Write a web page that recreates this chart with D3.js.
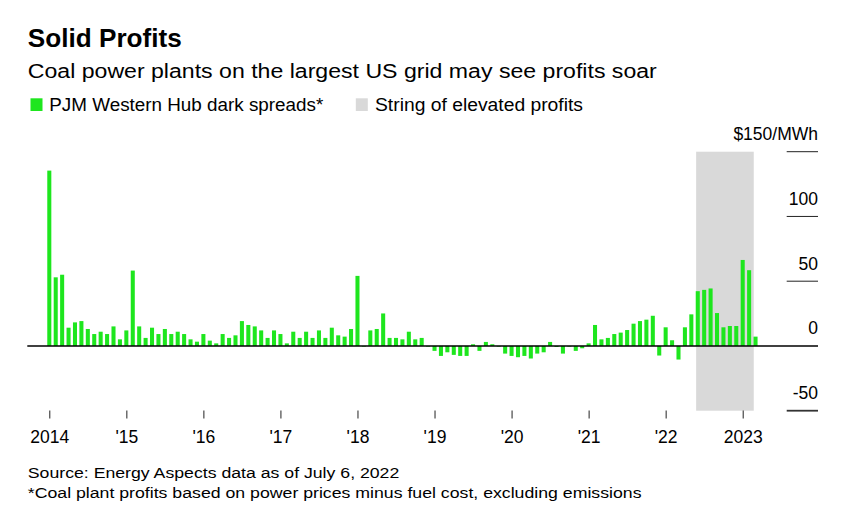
<!DOCTYPE html>
<html><head><meta charset="utf-8">
<script src="https://cdn.jsdelivr.net/npm/d3@7"></script>
<style>
body{margin:0;background:#fff}
svg{display:block}
text{font-family:"Liberation Sans",Arial,Helvetica,sans-serif;fill:#000}
</style>
</head><body>
<svg id="chart" width="851" height="530"></svg>
<script>
// ---------- data ----------
const startYear = 2014;
const spreads2014 = [135.4, 53, 55, 14.1, 18.2, 19.2, 13.1, 9.2, 11, 9.2, 15.1, 5.1];
const spreads2015 = [12, 58.2, 15.1, 6.2, 14.1, 9.2, 13.1, 9.2, 11, 9.2, 5.1, 3.3];
const spreads2016 = [9.2, 4.1, 2, 9.2, 6.2, 8.2, 19.2, 16.2, 15.1, 12, 6.2, 12];
const spreads2017 = [9.2, 2, 11, 6.2, 11, 6.2, 12, 6.2, 14.1, 8.2, 7.2, 13.1];
const spreads2018 = [54.1, -0.5, 12, 13.1, 25.1, 6.2, 6.2, 5.1, 11, 5.1, 6.2, -0.5];
const spreads2019 = [-3.8, -7.7, -4.9, -6.9, -7.7, -7.7, 1.3, -3.8, 3.1, 1.3, -0.5, -5.9];
const spreads2020 = [-7.7, -8.7, -7.7, -9.7, -5.9, -4.9, 3.1, -0.8, -5.9, -0.5, -3.8, -1.8];
const spreads2021 = [2, 16.2, 5.1, 6.2, 9.2, 10.3, 12.3, 17.2, 19.2, 20.3, 23.3, -7.4];
const spreads2022 = [14.4, 4.4, -10.5, 14.4, 24.4, 42.3, 43.3, 44.4, 25.4, 14.4, 15.4, 15.4];
const spreads2023 = [66.4, 58.5, 7.2];

const xTickYears = [2014, 2015, 2016, 2017, 2018, 2019, 2020, 2021, 2022, 2023];
const xTickLabels = ["2014", "'15", "'16", "'17", "'18", "'19", "'20", "'21", "'22", "2023"];
const yTickValues = [150, 100, 50, 0, -50];
const yTickLabels = ["$150/MWh", "100", "50", "0", "-50"];
const shadeStart = [2022, 6];   // year, month
const shadeEnd = [2023, 2];
const legendLabels = ["PJM Western Hub dark spreads*", "String of elevated profits"];
const titleText = "Solid Profits";
const subtitleText = "Coal power plants on the largest US grid may see profits soar";
const sourceLines = ["Source: Energy Aspects data as of July 6, 2022",
  "*Coal plant profits based on power prices minus fuel cost, excluding emissions"];

// ---------- build ----------
const spreads = [].concat(spreads2014, spreads2015, spreads2016, spreads2017, spreads2018,
  spreads2019, spreads2020, spreads2021, spreads2022, spreads2023);
const data = spreads.map((v, i) => ({i, v}));
const monthIndex = (y, m) => (y - startYear) * 12 + (m - 1);

const GREEN = "#1ee61e", SHADE = "#d9d9d9";
const svg = d3.select("#chart");
svg.append("rect").attr("width", 851).attr("height", 530).attr("fill", "#fff");

const x = d3.scaleLinear().domain([0, 108]).range([49.3, 742.7]);
const y = d3.scaleLinear().domain([-50, 150]).range([410.7, 151.7]);
const step = x(1) - x(0);
const bw = step * 0.63;

// shaded band
const sx0 = x(monthIndex(...shadeStart)) - bw / 2 + 0.4;
const sx1 = x(monthIndex(...shadeEnd)) + step * 0.72;
svg.append("rect")
  .attr("x", sx0).attr("y", y(150))
  .attr("width", sx1 - sx0).attr("height", y(-50) - y(150))
  .attr("fill", SHADE);

// bars
svg.append("g").selectAll("rect").data(data).join("rect")
  .attr("x", d => x(d.i) - bw / 2)
  .attr("width", bw)
  .attr("y", d => y(Math.max(0, d.v)))
  .attr("height", d => Math.abs(y(d.v) - y(0)))
  .attr("fill", GREEN);

// zero line
svg.append("line").attr("x1", 27.3).attr("x2", 818).attr("y1", y(0)).attr("y2", y(0))
  .attr("stroke", "#000").attr("stroke-width", 1.4);

// y grid ticks (right side)
const yg = svg.append("g");
yg.selectAll("line").data(yTickValues.filter(v => v !== 0)).join("line")
  .attr("x1", 786.7).attr("x2", 818).attr("y1", d => y(d)).attr("y2", d => y(d))
  .attr("stroke", d => d === -50 ? "#333" : "#222").attr("stroke-width", d => d === -50 ? 1.8 : 1);
yg.selectAll("text").data(yTickValues).join("text")
  .attr("x", 818).attr("y", d => y(d) - 11.5)
  .attr("text-anchor", "end").attr("font-size", 17.5)
  .text((d, i) => yTickLabels[i]);

// x axis
const xAxis = d3.axisBottom(x)
  .tickValues(xTickYears.map(yr => monthIndex(yr, 1)))
  .tickFormat((d, i) => xTickLabels[i])
  .tickSize(8);
const xg = svg.append("g").attr("transform", `translate(0,${410.5})`).call(xAxis);
xg.select(".domain").remove();
xg.selectAll(".tick line").attr("stroke", "#222").attr("stroke-width", 1);
xg.selectAll(".tick text").attr("y", 32.8).attr("dy", 0).attr("font-size", 17.5)
  .attr("font-family", '"Liberation Sans",Arial,sans-serif').attr("fill", "#000");

// titles
function fitText(sel, w) {
  const n = sel.node();
  const cur = n.getComputedTextLength();
  if (Math.abs(cur - w) > 1) sel.attr("textLength", w).attr("lengthAdjust", "spacingAndGlyphs");
  return sel;
}
fitText(svg.append("text").attr("x", 27.8).attr("y", 46.5).attr("font-size", 25.5)
  .attr("font-weight", "bold").text(titleText), 154);
fitText(svg.append("text").attr("x", 27.8).attr("y", 77.5).attr("font-size", 20)
  .text(subtitleText), 629);

// legend
const lg = svg.append("g");
lg.append("rect").attr("x", 30.5).attr("y", 98.3).attr("width", 12).attr("height", 12.7).attr("fill", GREEN);
fitText(lg.append("text").attr("x", 49.3).attr("y", 111).attr("font-size", 17.5).text(legendLabels[0]), 274);
lg.append("rect").attr("x", 355.8).attr("y", 98.3).attr("width", 12).attr("height", 12.7).attr("fill", SHADE);
fitText(lg.append("text").attr("x", 375).attr("y", 111).attr("font-size", 17.5).text(legendLabels[1]), 208);

// source
fitText(svg.append("text").attr("x", 27.8).attr("y", 477.5).attr("font-size", 15.5).text(sourceLines[0]), 371.5);
fitText(svg.append("text").attr("x", 27.8).attr("y", 498).attr("font-size", 15.5).text(sourceLines[1]), 613.7);
</script>
</body></html>
